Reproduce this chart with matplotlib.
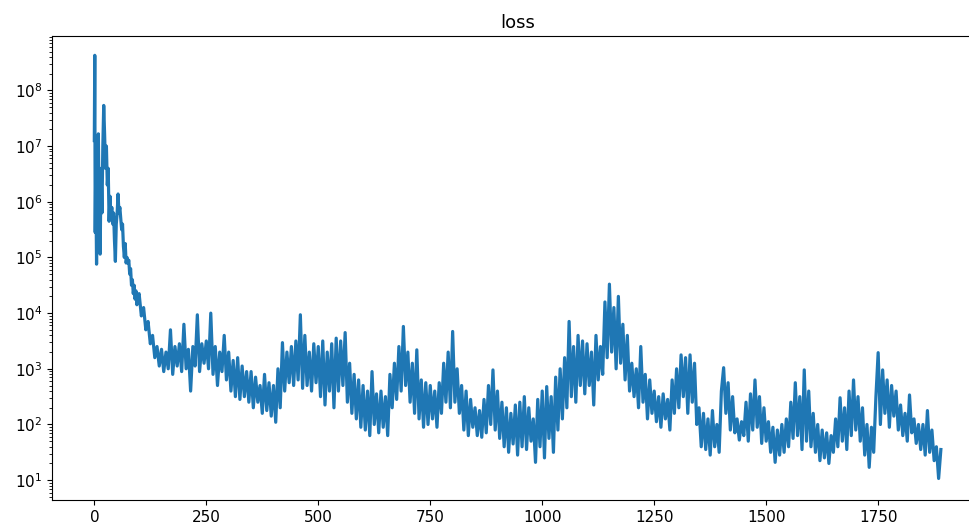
import numpy as np
from matplotlib import pyplot as plt

# first ~100 epochs, read point by point (log10 of loss)
early_epochs = [0, 1, 2, 3, 4, 5, 6, 7, 9, 11, 13, 15, 17, 19, 21, 23, 25, 27,
                29, 31, 33, 35, 37, 39, 41, 43, 45, 47, 49, 51, 53, 55, 57, 59,
                61, 63, 65, 67, 69, 71, 73, 75, 77, 79, 81, 83, 85, 87, 89, 91,
                93, 95, 97]
early_log10 = [7.1, 8.63, 5.45, 6.4, 5.8, 4.88, 6.3, 5.5, 7.22, 5.6, 5.06, 6.6,
               5.8, 7.0, 7.73, 7.2, 6.6, 7.0, 6.3, 6.6, 5.65, 6.1, 5.7, 5.9,
               5.6, 5.8, 5.3, 4.93, 5.6, 5.8, 6.14, 5.8, 5.9, 5.7, 5.5, 5.6,
               5.2, 5.0, 5.25, 4.9, 5.0, 4.9, 4.95, 4.7, 4.8, 4.5, 4.6, 4.35,
               4.5, 4.25, 4.4, 4.15, 4.3]

# epochs 100..1890, every 5 epochs (log10 of loss)
late_log10 = [
    4.35, 3.95, 4.1, 3.7, 3.85, 3.45, 3.6, 3.2, 3.4, 3.05,
    3.35, 2.95, 3.3, 3.0, 3.7, 2.9, 3.4, 3.05, 3.45, 2.95,
    3.8, 3.0, 3.35, 2.6, 3.4, 3.05, 3.97, 2.95, 3.45, 3.1,
    3.5, 3.0, 4.0, 2.9, 3.4, 2.7, 3.3, 2.95, 3.6, 2.8,
    3.3, 2.6, 3.15, 2.5, 3.2, 2.45, 3.05, 2.5, 2.95, 2.4,
    2.95, 2.3, 2.85, 2.4, 2.7, 2.2, 2.9, 2.25, 2.75, 2.15,
    2.7, 2.04, 3.0, 2.3, 3.47, 2.6, 3.3, 2.75, 3.4, 2.7,
    3.5, 2.8, 3.97, 2.65, 3.6, 2.7, 3.3, 2.6, 3.45, 2.75,
    3.4, 2.5, 3.5, 2.35, 3.3, 2.6, 3.45, 2.3, 3.55, 2.6,
    3.5, 2.7, 3.65, 2.4, 3.1, 2.2, 2.9, 2.1, 2.8, 1.95,
    2.7, 1.9, 2.6, 1.8, 2.95, 2.0, 2.55, 1.85, 2.6, 1.95,
    2.5, 1.8, 2.9, 2.3, 3.1, 2.45, 3.4, 2.6, 3.76, 2.7,
    3.3, 2.4, 3.1, 2.2, 3.34, 2.1, 2.8, 1.95, 2.75, 2.0,
    2.7, 2.1, 2.6, 1.95, 2.75, 2.2, 3.1, 2.4, 3.3, 2.3,
    3.67, 2.4, 3.0, 2.2, 2.7, 1.9, 2.6, 1.8, 2.45, 1.95,
    2.3, 1.8, 2.25, 1.77, 2.45, 1.85, 2.7, 2.0, 2.98, 1.9,
    2.6, 1.75, 2.4, 1.6, 2.3, 1.5, 2.2, 1.65, 2.35, 1.45,
    2.4, 1.6, 2.5, 1.55, 2.3, 1.7, 2.1, 1.32, 2.45, 1.6,
    2.6, 1.4, 2.68, 1.75, 2.5, 1.5, 2.85, 1.9, 3.0, 2.1,
    3.2, 2.3, 3.85, 2.5, 3.4, 2.4, 3.6, 2.7, 3.5, 2.55,
    3.45, 2.7, 3.3, 2.35, 3.6, 2.8, 3.4, 2.9, 4.2, 3.2,
    4.52, 3.3, 4.1, 3.0, 4.3, 3.1, 3.8, 2.8, 3.6, 2.6,
    3.1, 2.5, 3.0, 2.3, 3.4, 2.4, 2.9, 2.1, 2.8, 2.2,
    2.6, 2.05, 2.5, 1.95, 2.55, 2.1, 2.45, 1.9, 2.8, 2.2,
    3.0, 2.3, 3.25, 2.5, 3.2, 2.2, 3.25, 2.4, 3.1, 2.0,
    2.3, 1.6, 2.2, 1.55, 2.1, 1.45, 2.25, 1.6, 2.0, 1.5,
    2.6, 3.02, 2.2, 2.75, 1.9, 2.5, 1.85, 2.1, 1.72, 2.05,
    1.8, 2.4, 1.7, 2.55, 1.9, 2.8, 1.95, 2.5, 1.66, 2.3,
    1.7, 2.05, 1.5, 1.95, 1.32, 1.9, 1.45, 2.0, 1.5, 2.1,
    1.6, 2.4, 1.75, 2.75, 1.8, 2.5, 1.55, 2.98, 1.7, 2.6,
    1.6, 2.2, 1.5, 2.0, 1.35, 1.9, 1.4, 1.85, 1.3, 1.8,
    1.5, 2.1, 1.6, 2.48, 1.7, 2.3, 1.55, 2.6, 1.8, 2.8,
    1.9, 2.5, 1.7, 2.3, 1.45, 2.0, 1.23, 1.95, 1.5, 2.5,
    3.29, 2.0, 2.98, 2.2, 2.8, 1.95, 2.7, 2.15, 2.6, 1.9,
    2.35, 1.8, 2.2, 1.7, 2.53, 1.85, 2.1, 1.66, 2.0, 1.55,
    2.0, 1.45, 2.25, 1.5, 1.9, 1.35, 1.6, 1.03, 1.55,
]
late_epochs = list(range(100, 100 + 5 * len(late_log10), 5))

epochs = np.array(early_epochs + late_epochs)
loss = 10.0 ** np.array(early_log10 + late_log10)

fig = plt.figure(figsize=(9.7, 5.3), dpi=100)
ax = fig.add_axes([0.0536, 0.0566, 0.96, 0.8755])
ax.plot(epochs, loss, color='#1f77b4', linewidth=2.3)
ax.set_yscale('log')
ax.set_ylim(4.4, 9.5e8)
ax.tick_params(labelsize=11)
ax.set_title('loss', fontsize=13)

fig.savefig('out.png', dpi=100)
